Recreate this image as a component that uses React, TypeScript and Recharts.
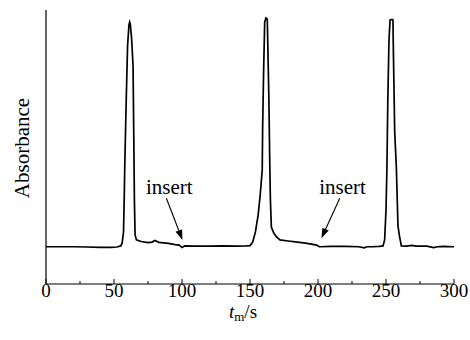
import { Line, LineChart, ReferenceDot, ReferenceLine, XAxis, YAxis } from 'recharts'

// flow injection peaks, time in s, absorbance in arbitrary units (0-100)
const times = [
  0, 10, 20, 30, 40, 48, 52, 55, 56, 57, 57.5, 58, 59, 60, 61, 61.5, 62, 63, 64, 64.5, 65, 65.5, 66.5,
  70, 75, 78, 80, 83, 90, 95, 98, 100, 102, 110, 120, 130, 140, 147,
  150, 152, 154, 156, 157.5, 159, 159.3, 160, 160.8, 161.7, 162.7, 163.2, 163.9, 164.5, 165, 165.7,
  167.5, 169.5, 172, 178, 185, 192, 199, 201, 210, 220, 230, 234, 236, 240, 245,
  247.8, 249, 250, 250.7, 251.3, 252.2, 253, 254.5, 255.1, 255.5, 256.4, 257.6, 258.8, 260, 261.3,
  265, 269, 272, 280, 285, 288, 292, 300,
]
const absorbance = [
  13.6, 13.6, 13.6, 13.5, 13.4, 13.4, 13.5, 13.9, 15.0, 19.0, 30.7, 45.3, 67.2, 87.2, 94.5, 95.6, 94.9, 89.1, 79.6, 56.2, 30.7, 17.9, 16.1,
  15.5, 15.1, 15.3, 15.9, 15.2, 14.8, 14.4, 14.2, 13.3, 13.9, 13.8, 13.8, 13.9, 13.8, 13.9,
  14.0, 15.3, 19.0, 25.2, 32.5, 41.6, 57.3, 77.4, 95.6, 97.1, 96.7, 84.7, 67.2, 45.3, 30.7, 20.8,
  18.6, 17.2, 16.1, 15.7, 15.3, 14.8, 14.2, 13.6, 13.7, 13.7, 13.6, 13.2, 13.6, 13.6, 13.7,
  13.9, 16.1, 27.0, 42.7, 66.1, 89.1, 96.4, 96.6, 96.4, 82.8, 55.5, 42.7, 21.2, 17.2, 13.9,
  13.8, 14.1, 13.8, 13.8, 13.3, 13.6, 13.7, 13.6,
]

const xTicks = [0, 25, 50, 75, 100, 125, 150, 175, 200, 225, 250, 275, 300]

// "insert" annotations
const noteText = ['insert', 'insert']
const noteX = [90.7, 218]
const noteY = [35.4, 35.4]
const arrowFrom = [[88.5, 31.3], [216, 31.3]]
const arrowTo = [[100.3, 16.1], [202.5, 16.7]]

const data = times.map((t, i) => ({ t, a: absorbance[i] }))

const FONT = '"Liberation Serif", "DejaVu Serif", serif'

function TimeTick(props: any) {
  const { x, y, payload } = props
  const major = payload.value % 50 === 0
  return (
    <g>
      <line x1={x} x2={x} y1={y} y2={y - (major ? 5 : 3)} stroke='#000' strokeWidth={1} />
      {major && (
        <text x={x} y={y + 12.5} textAnchor='middle' fontSize={19} fontFamily={FONT} fill='#000'>
          {payload.value}
        </text>
      )}
    </g>
  )
}

function TimeLabel(props: any) {
  const { viewBox } = props
  const cx = viewBox.x + viewBox.width / 2 - 7
  return (
    <text x={cx} y={viewBox.y + 34} textAnchor='middle' fontSize={19} fontFamily={FONT} fill='#000'>
      <tspan fontStyle='italic'>t</tspan>
      <tspan fontSize={13} dy={3}>m</tspan>
      <tspan dy={-3}>/s</tspan>
    </text>
  )
}

function AbsLabel(props: any) {
  const { viewBox } = props
  const x = viewBox.x + 29
  const y = viewBox.y + viewBox.height / 2 + 1
  return (
    <text x={x} y={y} transform={`rotate(-90, ${x}, ${y})`} textAnchor='middle' fontSize={21} fontFamily={FONT} fill='#000'>
      Absorbance
    </text>
  )
}

function Arrow(props: any) {
  const { x1, y1, x2, y2 } = props
  const dx = x2 - x1
  const dy = y2 - y1
  const len = Math.hypot(dx, dy)
  const ux = dx / len
  const uy = dy / len
  const hl = 10
  const hw = 3.5
  const bx = x2 - ux * hl
  const by = y2 - uy * hl
  return (
    <g>
      <line x1={x1} y1={y1} x2={bx} y2={by} stroke='#000' strokeWidth={1.1} />
      <polygon
        points={`${x2},${y2} ${bx - uy * hw},${by + ux * hw} ${bx + uy * hw},${by - ux * hw}`}
        fill='#000'
      />
    </g>
  )
}

export default function App() {
  return (
    <div style={{ position: 'absolute', left: 0, top: 0, fontFamily: FONT }}>
      <LineChart width={470} height={340} data={data} margin={{ top: 10, right: 16, left: 0, bottom: 0 }}>
        <XAxis
          dataKey='t'
          type='number'
          domain={[0, 300]}
          ticks={xTicks}
          interval={0}
          tickSize={0}
          tickMargin={0}
          tickLine={false}
          tick={<TimeTick />}
          axisLine={{ stroke: '#000', strokeWidth: 1.2 }}
          height={56}
          label={<TimeLabel />}
        />
        <YAxis
          type='number'
          domain={[0, 100]}
          tick={false}
          tickLine={false}
          axisLine={{ stroke: '#000', strokeWidth: 1.2 }}
          width={46}
          label={<AbsLabel />}
        />
        <Line
          type='linear'
          dataKey='a'
          stroke='#000'
          strokeWidth={1.7}
          dot={false}
          isAnimationActive={false}
        />
        {arrowFrom.map((from, i) => (
          <ReferenceLine
            key={`arrow-${i}`}
            segment={[
              { x: from[0], y: from[1] },
              { x: arrowTo[i][0], y: arrowTo[i][1] },
            ]}
            shape={<Arrow />}
          />
        ))}
        {noteText.map((txt, i) => (
          <ReferenceDot
            key={`note-${i}`}
            x={noteX[i]}
            y={noteY[i]}
            r={0}
            fill='none'
            stroke='none'
            label={{ value: txt, position: 'center', fontSize: 21, fontFamily: FONT, fill: '#000' }}
          />
        ))}
      </LineChart>
    </div>
  )
}
